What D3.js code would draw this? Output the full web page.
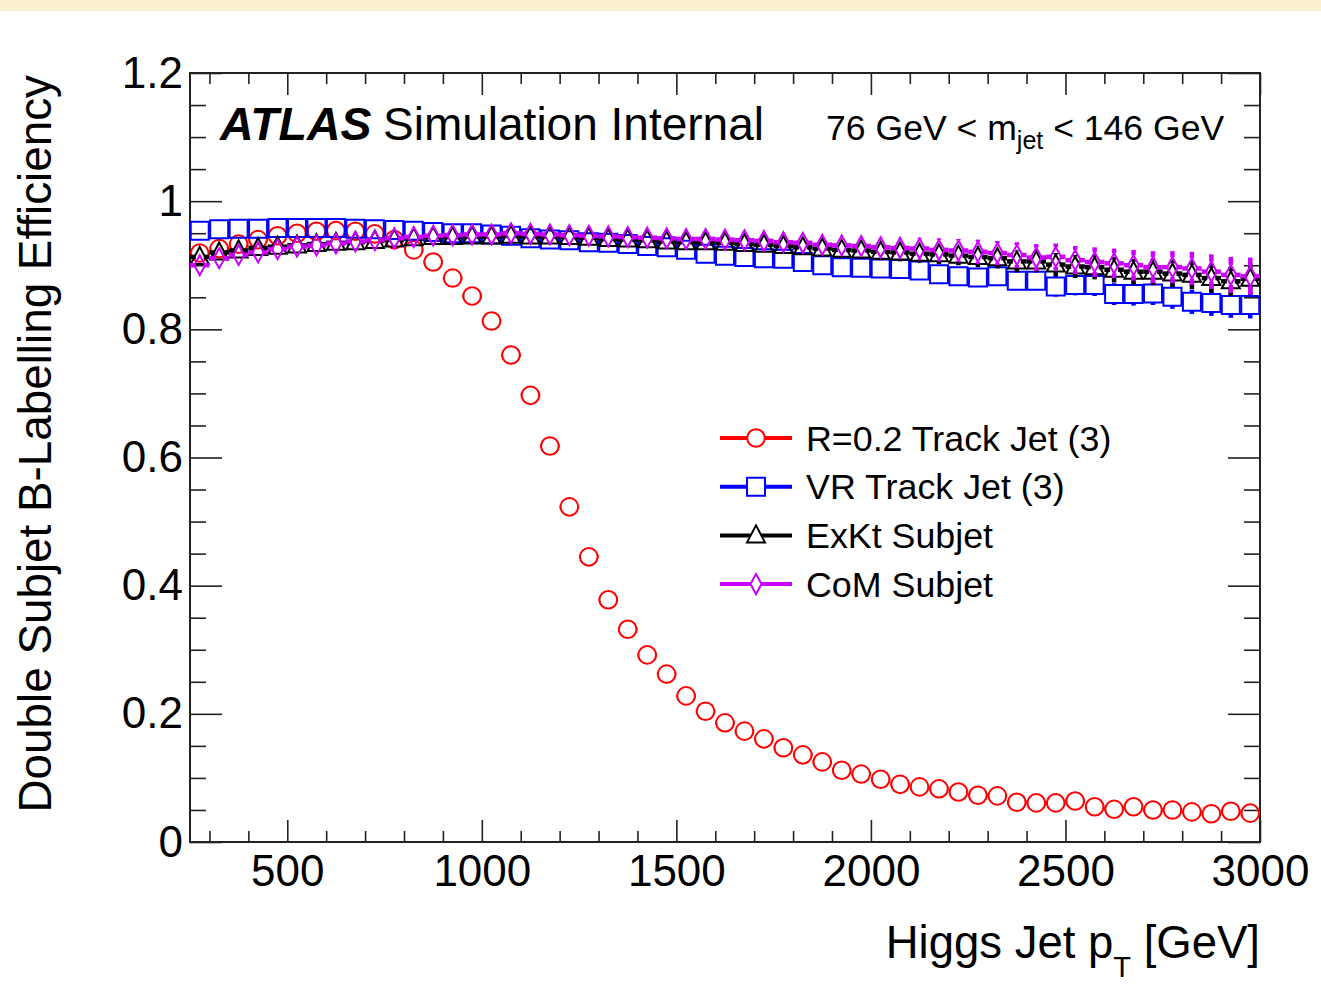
<!DOCTYPE html>
<html>
<head>
<meta charset="utf-8">
<script src="https://cdn.jsdelivr.net/npm/d3@7"></script>
<style>
  body { margin: 0; background: #fff; }
  text { font-family: "Liberation Sans", Arial, Helvetica, sans-serif; fill: #000; }
</style>
</head>
<body>
<svg id="chart" width="1321" height="998"></svg>
<script>
// Bin centres, Higgs jet pT [GeV] (50 GeV bins)
const ptBins = [
  275, 325, 375, 425, 475, 525, 575, 625, 675, 725, 775,
  825, 875, 925, 975, 1025, 1075, 1125, 1175, 1225, 1275, 1325,
  1375, 1425, 1475, 1525, 1575, 1625, 1675, 1725, 1775, 1825, 1875,
  1925, 1975, 2025, 2075, 2125, 2175, 2225, 2275, 2325, 2375, 2425,
  2475, 2525, 2575, 2625, 2675, 2725, 2775, 2825, 2875, 2925, 2975,
];
const binHalfWidth = 25;

// R=0.2 track jets
const redEff = [
  0.919, 0.926, 0.933, 0.940, 0.946, 0.950, 0.953, 0.954, 0.953, 0.949, 0.940,
  0.924, 0.905, 0.880, 0.852, 0.813, 0.760, 0.697, 0.618, 0.523, 0.445, 0.378,
  0.332, 0.292, 0.262, 0.228, 0.204, 0.186, 0.173, 0.161, 0.147, 0.136, 0.125,
  0.112, 0.106, 0.098, 0.090, 0.086, 0.083, 0.078, 0.073, 0.072, 0.062, 0.061,
  0.061, 0.064, 0.055, 0.051, 0.055, 0.050, 0.050, 0.047, 0.044, 0.048, 0.045,
];
const redErr = [
  0.004, 0.004, 0.004, 0.004, 0.004, 0.004, 0.004, 0.004, 0.004, 0.004, 0.005,
  0.005, 0.005, 0.005, 0.006, 0.006, 0.006, 0.007, 0.007, 0.007, 0.007, 0.007,
  0.007, 0.006, 0.006, 0.006, 0.006, 0.006, 0.006, 0.005, 0.005, 0.005, 0.005,
  0.005, 0.005, 0.005, 0.005, 0.005, 0.005, 0.005, 0.005, 0.005, 0.005, 0.005,
  0.005, 0.005, 0.005, 0.005, 0.005, 0.005, 0.005, 0.005, 0.005, 0.005, 0.005,
];

// VR track jets
const blueEff = [
  0.954, 0.956, 0.957, 0.957, 0.958, 0.958, 0.958, 0.958, 0.957, 0.956, 0.955,
  0.954, 0.952, 0.950, 0.950, 0.948, 0.946, 0.942, 0.940, 0.939, 0.936, 0.935,
  0.933, 0.930, 0.928, 0.924, 0.918, 0.915, 0.913, 0.911, 0.910, 0.905, 0.900,
  0.897, 0.896, 0.895, 0.894, 0.892, 0.886, 0.883, 0.881, 0.883, 0.876, 0.876,
  0.867, 0.869, 0.869, 0.855, 0.855, 0.856, 0.851, 0.843, 0.841, 0.838, 0.838,
];
const blueErr = [
  0.003, 0.003, 0.003, 0.003, 0.003, 0.003, 0.003, 0.003, 0.003, 0.003, 0.003,
  0.004, 0.004, 0.004, 0.004, 0.004, 0.004, 0.005, 0.005, 0.005, 0.005, 0.006,
  0.006, 0.006, 0.007, 0.007, 0.007, 0.008, 0.008, 0.008, 0.009, 0.009, 0.010,
  0.010, 0.011, 0.011, 0.012, 0.012, 0.013, 0.013, 0.014, 0.014, 0.015, 0.015,
  0.016, 0.016, 0.017, 0.017, 0.018, 0.018, 0.019, 0.019, 0.020, 0.020, 0.021,
];

// ExKt subjets
const blackEff = [
  0.913, 0.920, 0.923, 0.927, 0.929, 0.931, 0.933, 0.935, 0.936, 0.938, 0.940,
  0.942, 0.944, 0.944, 0.945, 0.945, 0.946, 0.945, 0.945, 0.944, 0.943, 0.941,
  0.940, 0.939, 0.937, 0.936, 0.936, 0.935, 0.933, 0.932, 0.930, 0.928, 0.926,
  0.924, 0.923, 0.921, 0.920, 0.918, 0.917, 0.915, 0.913, 0.911, 0.906, 0.906,
  0.901, 0.898, 0.897, 0.893, 0.890, 0.890, 0.887, 0.885, 0.880, 0.875, 0.879,
];
const blackErr = [
  0.003, 0.003, 0.003, 0.003, 0.003, 0.003, 0.004, 0.004, 0.004, 0.004, 0.004,
  0.004, 0.005, 0.005, 0.005, 0.005, 0.006, 0.006, 0.006, 0.007, 0.007, 0.007,
  0.008, 0.008, 0.008, 0.009, 0.009, 0.010, 0.010, 0.010, 0.011, 0.011, 0.012,
  0.012, 0.013, 0.013, 0.014, 0.014, 0.015, 0.015, 0.016, 0.016, 0.017, 0.017,
  0.018, 0.018, 0.019, 0.020, 0.020, 0.021, 0.021, 0.022, 0.023, 0.023, 0.024,
];

// CoM subjets
const purpleEff = [
  0.900, 0.911, 0.916, 0.920, 0.925, 0.929, 0.931, 0.934, 0.937, 0.939, 0.942,
  0.944, 0.946, 0.947, 0.948, 0.948, 0.950, 0.949, 0.948, 0.947, 0.946, 0.945,
  0.944, 0.943, 0.942, 0.941, 0.941, 0.940, 0.939, 0.938, 0.936, 0.935, 0.932,
  0.931, 0.930, 0.928, 0.927, 0.926, 0.924, 0.923, 0.921, 0.919, 0.916, 0.912,
  0.913, 0.908, 0.905, 0.903, 0.900, 0.897, 0.897, 0.895, 0.890, 0.885, 0.883,
];
const purpleErr = [
  0.004, 0.004, 0.004, 0.004, 0.004, 0.004, 0.004, 0.004, 0.005, 0.005, 0.005,
  0.005, 0.006, 0.006, 0.006, 0.007, 0.007, 0.007, 0.008, 0.008, 0.008, 0.009,
  0.009, 0.010, 0.010, 0.011, 0.011, 0.012, 0.012, 0.013, 0.013, 0.014, 0.014,
  0.015, 0.015, 0.016, 0.016, 0.017, 0.018, 0.018, 0.019, 0.019, 0.020, 0.021,
  0.021, 0.022, 0.023, 0.023, 0.024, 0.025, 0.025, 0.026, 0.027, 0.028, 0.029,
];

const seriesNames = ["R=0.2 Track Jet (3)", "VR Track Jet (3)", "ExKt Subjet", "CoM Subjet"];
const xTickLabels = [500, 1000, 1500, 2000, 2500, 3000];
const yTickLabels = [0, 0.2, 0.4, 0.6, 0.8, 1, 1.2];

// Series table built from the arrays above
const series = [
  { name: seriesNames[0], values: redEff, errors: redErr, color: "#ff0000", marker: "circle" },
  { name: seriesNames[1], values: blueEff, errors: blueErr, color: "#0000ff", marker: "square" },
  { name: seriesNames[2], values: blackEff, errors: blackErr, color: "#000000", marker: "triangle" },
  { name: seriesNames[3], values: purpleEff, errors: purpleErr, color: "#cc00ff", marker: "diamond" },
];

// Marker shapes (open ROOT-like markers) and the gaps left in error bars
const markerGap = {
  circle: { h: 8.8, up: 8.8, down: 8.8 },
  square: { h: 9, up: 9, down: 9 },
  triangle: { h: 4, up: 10, down: 7 },
  diamond: { h: 4, up: 10, down: 10 },
};
const markerPath = {
  circle: "M-8.8,0a8.8,8.8 0 1,0 17.6,0a8.8,8.8 0 1,0 -17.6,0Z",
  square: "M-9,-9H9V9H-9Z",
  triangle: "M0,-10L9,7L-9,7Z",
  diamond: "M0,-10L5.5,0L0,10L-5.5,0Z",
};

const svg = d3.select("#chart");
const plotLeft = 190, plotRight = 1260, plotTop = 73, plotBottom = 842;

// Beige strip at the very top
svg.append("rect").attr("x", 0).attr("y", 0).attr("width", 1321).attr("height", 11)
  .attr("fill", "#faefcf");

const x = d3.scaleLinear().domain([250, 3000]).range([plotLeft, plotRight]);
const y = d3.scaleLinear().domain([0, 1.2]).range([plotBottom, plotTop]);

const minorX = d3.range(300, 3000, 100).filter((v) => v % 500 !== 0);
const minorY = d3.range(0.05, 1.2, 0.05).filter((v) => Math.abs(v * 5 - Math.round(v * 5)) > 1e-6);

function styleAxis(g) {
  g.select(".domain").remove();
  g.selectAll("line").attr("stroke", "#222").attr("stroke-width", 1.6);
  g.selectAll("text").attr("font-size", "44px").attr("fill", "#000")
    .attr("font-family", '"Liberation Sans", Arial, sans-serif');
}

const yFmt = (d) => (d === 0 ? "0" : String(+d.toFixed(1)));

// Bottom
svg.append("g").attr("transform", `translate(0,${plotBottom})`)
  .call(d3.axisBottom(x).tickValues(xTickLabels).tickSize(-22).tickPadding(13).tickFormat(d3.format("d")))
  .call(styleAxis);
svg.append("g").attr("transform", `translate(0,${plotBottom})`)
  .call(d3.axisBottom(x).tickValues(minorX).tickSize(-11).tickFormat(""))
  .call(styleAxis);
// Top
svg.append("g").attr("transform", `translate(0,${plotTop})`)
  .call(d3.axisTop(x).tickValues(xTickLabels).tickSize(-22).tickFormat(""))
  .call(styleAxis);
svg.append("g").attr("transform", `translate(0,${plotTop})`)
  .call(d3.axisTop(x).tickValues(minorX).tickSize(-11).tickFormat(""))
  .call(styleAxis);
// Left
svg.append("g").attr("transform", `translate(${plotLeft},0)`)
  .call(d3.axisLeft(y).tickValues(yTickLabels).tickSize(-32).tickPadding(7).tickFormat(yFmt))
  .call(styleAxis);
svg.append("g").attr("transform", `translate(${plotLeft},0)`)
  .call(d3.axisLeft(y).tickValues(minorY).tickSize(-16).tickFormat(""))
  .call(styleAxis);
// Right
svg.append("g").attr("transform", `translate(${plotRight},0)`)
  .call(d3.axisRight(y).tickValues(yTickLabels).tickSize(-32).tickFormat(""))
  .call(styleAxis);
svg.append("g").attr("transform", `translate(${plotRight},0)`)
  .call(d3.axisRight(y).tickValues(minorY).tickSize(-16).tickFormat(""))
  .call(styleAxis);

// Frame
svg.append("rect").attr("x", plotLeft).attr("y", plotTop)
  .attr("width", plotRight - plotLeft).attr("height", plotBottom - plotTop)
  .attr("fill", "none").attr("stroke", "#222").attr("stroke-width", 2);

// Data: error bars then markers, in legend order
const plot = svg.append("g");
series.forEach((s) => {
  const gap = markerGap[s.marker];
  const g = plot.append("g");
  const pts = ptBins.map((pt, i) => ({ pt, v: s.values[i], e: s.errors[i] }));
  const segs = [];
  pts.forEach((p) => {
    const cx = x(p.pt), cy = y(p.v);
    const xl = x(p.pt - binHalfWidth), xr = x(p.pt + binHalfWidth);
    if (cx - gap.h > xl) segs.push([xl, cy, cx - gap.h, cy]);
    if (xr > cx + gap.h) segs.push([cx + gap.h, cy, xr, cy]);
    const yt = y(p.v + p.e), yb = y(p.v - p.e);
    if (yt < cy - gap.up) segs.push([cx, yt, cx, cy - gap.up]);
    if (yb > cy + gap.down) segs.push([cx, cy + gap.down, cx, yb]);
  });
  g.selectAll("line").data(segs).join("line")
    .attr("x1", (d) => d[0]).attr("y1", (d) => d[1])
    .attr("x2", (d) => d[2]).attr("y2", (d) => d[3])
    .attr("stroke", s.color).attr("stroke-width", 4.5);
  g.selectAll("path").data(pts).join("path")
    .attr("d", markerPath[s.marker])
    .attr("transform", (d) => `translate(${x(d.pt)},${y(d.v)})`)
    .attr("fill", "none").attr("stroke", s.color).attr("stroke-width", 2);
});

// Legend
const legend = svg.append("g");
series.forEach((s, i) => {
  const ly = 438 + i * 48.7;
  legend.append("line").attr("x1", 720).attr("x2", 792).attr("y1", ly).attr("y2", ly)
    .attr("stroke", s.color).attr("stroke-width", 4);
  legend.append("path").attr("d", markerPath[s.marker])
    .attr("transform", `translate(756,${ly})`)
    .attr("fill", "#fff").attr("stroke", s.color).attr("stroke-width", 2);
  legend.append("text").attr("x", 806).attr("y", ly).attr("dy", "0.35em")
    .attr("font-size", "35.8px").text(s.name);
});

// Labels
svg.append("text").attr("x", 220).attr("y", 140)
  .attr("font-size", "46.5px").attr("font-weight", "bold").attr("font-style", "italic")
  .text("ATLAS");
svg.append("text").attr("x", 383).attr("y", 140)
  .attr("font-size", "46px").text("Simulation Internal");

const mjet = svg.append("text").attr("x", 826).attr("y", 140).attr("font-size", "35.6px");
mjet.append("tspan").text("76 GeV < m");
mjet.append("tspan").attr("font-size", "25px").attr("dy", 9).text("jet");
mjet.append("tspan").attr("dy", -9).text(" < 146 GeV");

const xt = svg.append("text").attr("x", 1260).attr("y", 958)
  .attr("text-anchor", "end").attr("font-size", "45.5px");
xt.append("tspan").text("Higgs Jet p");
xt.append("tspan").attr("font-size", "29px").attr("dy", 19).text("T");
xt.append("tspan").attr("dy", -19).text(" [GeV]");

svg.append("text").attr("transform", "translate(51,75) rotate(-90)")
  .attr("text-anchor", "end").attr("font-size", "45.8px")
  .text("Double Subjet B-Labelling Efficiency");
</script>
</body>
</html>
